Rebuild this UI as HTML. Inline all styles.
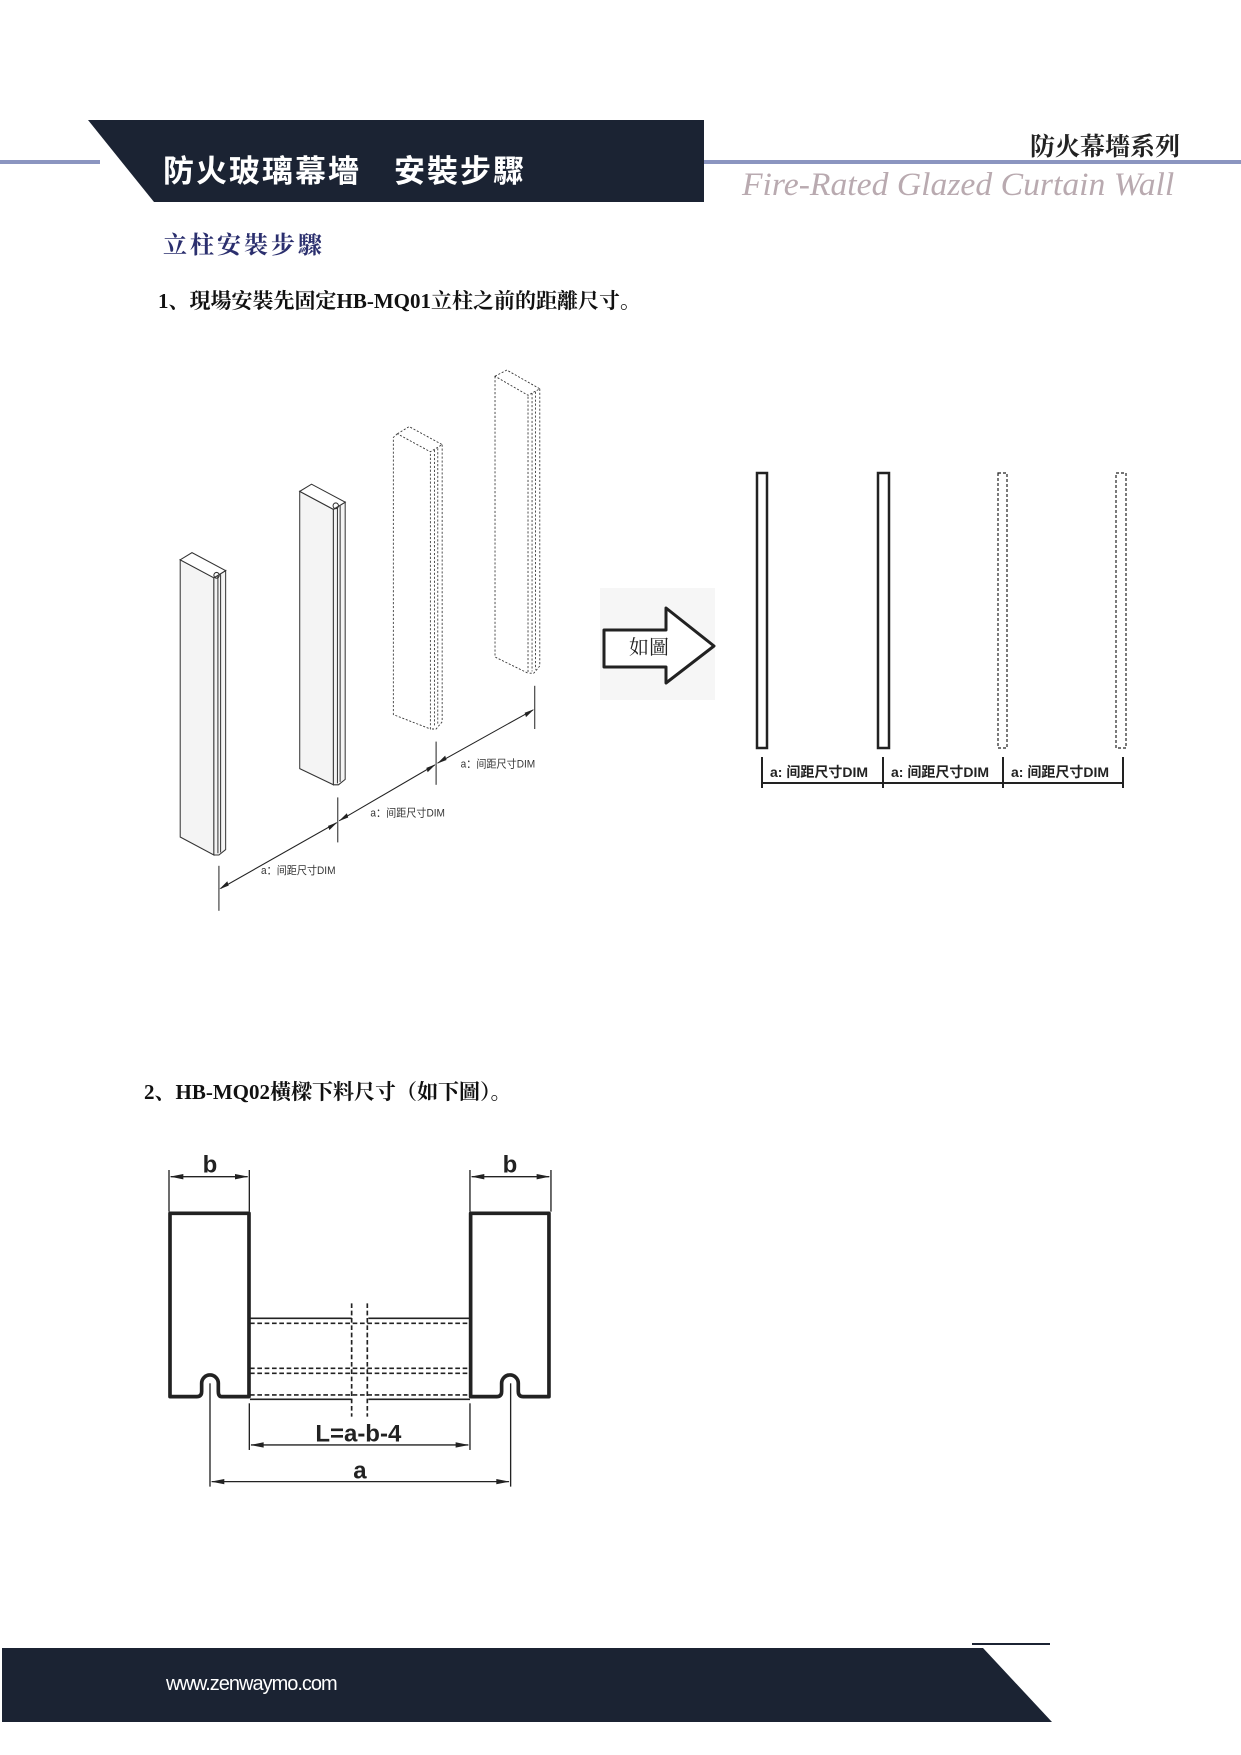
<!DOCTYPE html>
<html><head><meta charset="utf-8"><style>
body{margin:0;background:#fff;}
.pg{position:relative;width:1241px;height:1755px;overflow:hidden;background:#fff;font-family:"Liberation Serif","Noto Serif CJK SC",serif;}
.t{position:absolute;white-space:nowrap;}
</style></head><body><div class="pg">
<svg width="1241" height="1755" style="position:absolute;left:0;top:0">
<rect x="0" y="160" width="100" height="4" fill="#8b95c0"/>
<rect x="704" y="160" width="537" height="4" fill="#8b95c0"/>
<polygon points="88,120 704,120 704,202 154,202" fill="#1b2333"/>
<line x1="972" y1="1644" x2="1050" y2="1644" stroke="#1b2333" stroke-width="2"/>
<polygon points="2,1648 983,1648 1052,1722 2,1722" fill="#1b2333"/>

<g transform="translate(160,360) scale(0.3367,0.36)" fill="none" stroke="#333" stroke-width="3">
 <g fill="#f4f4f4">
  <polygon points="60,555 160,605 160,1375 60,1325"/>
  <polygon points="160,605 195,585 195,1360 175,1375 160,1375"/>
  <polygon points="60,555 95,535 195,585 160,605" fill="#fff"/>
  <polygon points="415,365 515,415 515,1180 415,1135"/>
  <polygon points="515,415 550,395 550,1165 530,1180 515,1180"/>
  <polygon points="415,365 450,345 550,395 515,415" fill="#fff"/>
 </g>
 <line x1="172" y1="600" x2="172" y2="1370"/><line x1="180" y1="595" x2="180" y2="1368"/>
 <line x1="527" y1="410" x2="527" y2="1176"/><line x1="535" y1="405" x2="535" y2="1172"/>
 <circle cx="168" cy="598" r="8"/><circle cx="522" cy="405" r="8"/>
 <g stroke-dasharray="6,5" stroke-width="2.5">
  <polygon points="705,205 740,185 838,235 803,255"/>
  <polyline points="705,205 693,215 693,985 803,1025 803,255"/>
  <polyline points="838,235 838,1005 820,1025 803,1025"/>
  <line x1="815" y1="250" x2="815" y2="1020"/><line x1="825" y1="245" x2="825" y2="1015"/>
  <polygon points="995,45 1030,28 1128,80 1093,98"/>
  <polyline points="995,45 995,825 1093,870 1093,98"/>
  <polyline points="1128,80 1128,850 1110,870 1093,870"/>
  <line x1="1105" y1="92" x2="1105" y2="865"/><line x1="1115" y1="88" x2="1115" y2="860"/>
 </g>
 <g stroke="#222" stroke-width="3">
  <line x1="175" y1="1405" x2="175" y2="1530"/>
  <line x1="528" y1="1215" x2="528" y2="1340"/>
  <line x1="820" y1="1060" x2="820" y2="1180"/>
  <line x1="1113" y1="905" x2="1113" y2="1025"/>
  <line x1="180" y1="1468" x2="525" y2="1285"/>
  <line x1="532" y1="1280" x2="816" y2="1125"/>
  <line x1="824" y1="1120" x2="1108" y2="972"/>
 </g>
 <g fill="#222" stroke="none">
  <polygon points="176,1470 200,1448 204,1460"/>
  <polygon points="527,1284 503,1306 499,1294"/>
  <polygon points="531,1281 555,1259 559,1271"/>
  <polygon points="819,1123 795,1145 791,1133"/>
  <polygon points="823,1121 847,1099 851,1111"/>
  <polygon points="1111,970 1087,992 1083,980"/>
 </g>
 <g fill="#333" stroke="none" font-family="Liberation Sans,Noto Sans CJK SC,sans-serif" font-size="30">
  <text x="300" y="1428">a：间距尺寸DIM</text>
  <text x="625" y="1268">a：间距尺寸DIM</text>
  <text x="893" y="1132">a：间距尺寸DIM</text>
 </g>
</g>

<rect x="600" y="588" width="115" height="112" fill="#f6f6f6"/>
<polygon points="604,630 666,630 666,608 714,646 666,683 666,667 604,667" fill="#fff" stroke="#222" stroke-width="3" stroke-linejoin="round"/>
<text x="629" y="654" font-family="Liberation Serif,Noto Serif CJK SC,serif" font-size="20" fill="#222">如圖</text>

<g fill="#fff" stroke="#222">
 <rect x="757" y="473" width="10" height="275" stroke-width="2.5"/>
 <rect x="878" y="473" width="11" height="275" stroke-width="2.5"/>
 <rect x="998" y="473" width="9" height="275" stroke-width="1.2" stroke-dasharray="3,2"/>
 <rect x="1116" y="473" width="10" height="275" stroke-width="1.2" stroke-dasharray="3,2"/>
</g>
<g stroke="#222" stroke-width="2">
 <line x1="762" y1="757" x2="762" y2="788"/><line x1="883" y1="757" x2="883" y2="788"/>
 <line x1="1003" y1="757" x2="1003" y2="788"/><line x1="1123" y1="757" x2="1123" y2="788"/>
 <line x1="762" y1="783" x2="1123" y2="783"/>
</g>
<g font-family="Liberation Sans,Noto Sans CJK SC,sans-serif" font-size="14" font-weight="bold" fill="#222">
 <text x="770" y="777">a: 间距尺寸DIM</text>
 <text x="891" y="777">a: 间距尺寸DIM</text>
 <text x="1011" y="777">a: 间距尺寸DIM</text>
</g>

<g transform="translate(150,1130) scale(0.3333)" fill="none" stroke="#222">
 <path d="M140,800 L60,800 L60,250 L297,250 L297,800 L215,800 Q205,800 205,785 L205,760 A25,25 0 1 0 155,760 L155,785 Q155,800 140,800 Z" stroke-width="11" stroke-linejoin="round"/>
 <path d="M1040,800 L962,800 L962,250 L1197,250 L1197,800 L1120,800 Q1105,800 1105,785 L1105,760 A25,25 0 1 0 1055,760 L1055,785 Q1055,800 1040,800 Z" stroke-width="11" stroke-linejoin="round"/>
 <g stroke-width="5">
  <line x1="300" y1="565" x2="605" y2="565"/><line x1="655" y1="565" x2="960" y2="565"/>
  <line x1="300" y1="808" x2="605" y2="808"/><line x1="655" y1="808" x2="960" y2="808"/>
 </g>
 <g stroke-width="5" stroke-dasharray="14,8">
  <line x1="300" y1="580" x2="960" y2="580"/>
  <line x1="300" y1="715" x2="960" y2="715"/>
  <line x1="300" y1="730" x2="960" y2="730"/>
  <line x1="300" y1="795" x2="960" y2="795"/>
  <line x1="605" y1="520" x2="605" y2="860"/>
  <line x1="652" y1="520" x2="652" y2="860"/>
 </g>
 <g stroke-width="4">
  <line x1="57" y1="120" x2="57" y2="245"/><line x1="298" y1="120" x2="298" y2="245"/>
  <line x1="62" y1="140" x2="293" y2="140"/>
  <line x1="960" y1="120" x2="960" y2="245"/><line x1="1203" y1="120" x2="1203" y2="245"/>
  <line x1="965" y1="140" x2="1198" y2="140"/>
  <line x1="298" y1="820" x2="298" y2="960"/><line x1="960" y1="820" x2="960" y2="960"/>
  <line x1="303" y1="945" x2="955" y2="945"/>
  <line x1="180" y1="760" x2="180" y2="1070"/><line x1="1082" y1="760" x2="1082" y2="1070"/>
  <line x1="185" y1="1055" x2="1077" y2="1055"/>
 </g>
 <g fill="#222" stroke="none">
  <polygon points="60,140 100,132 100,148"/><polygon points="295,140 255,132 255,148"/>
  <polygon points="963,140 1003,132 1003,148"/><polygon points="1200,140 1160,132 1160,148"/>
  <polygon points="301,945 341,937 341,953"/><polygon points="957,945 917,937 917,953"/>
  <polygon points="183,1055 223,1047 223,1063"/><polygon points="1079,1055 1039,1047 1039,1063"/>
 </g>
 <g fill="#222" stroke="none" font-family="Liberation Sans,sans-serif" font-weight="bold" font-size="72" text-anchor="middle">
  <text x="180" y="128">b</text><text x="1080" y="128">b</text>
  <text x="625" y="935">L=a-b-4</text><text x="630" y="1045">a</text>
 </g>
</g>
</svg>

<div class="t" style="left:163px;top:146px;font-size:31px;color:#fff;font-family:'Liberation Sans','Noto Sans CJK TC',sans-serif;letter-spacing:2px;font-weight:bold;">防火玻璃幕墻　安裝步驟</div>
<div class="t" style="left:1030px;top:127px;font-size:25px;font-weight:bold;color:#222;">防火幕墻系列</div>
<div class="t" style="left:742px;top:167px;font-size:33px;font-style:italic;color:#b9aab0;font-family:'Liberation Serif',serif;transform:scaleX(1.02);transform-origin:left top;">Fire-Rated Glazed Curtain Wall</div>
<div class="t" style="left:163px;top:225px;font-size:24px;font-weight:bold;color:#2b2f6e;letter-spacing:3px;">立柱安裝步驟</div>
<div class="t" style="left:158px;top:285px;font-size:21px;font-weight:bold;color:#111;">1、現場安裝先固定HB-MQ01立柱之前的距離尺寸。</div>
<div class="t" style="left:144px;top:1076px;font-size:21px;font-weight:bold;color:#111;">2、HB-MQ02橫樑下料尺寸（如下圖）。</div>
<div class="t" style="left:166px;top:1673px;font-size:20px;color:#fff;font-family:'Liberation Sans',sans-serif;letter-spacing:-1px;">www.zenwaymo.com</div>
</div></body></html>
